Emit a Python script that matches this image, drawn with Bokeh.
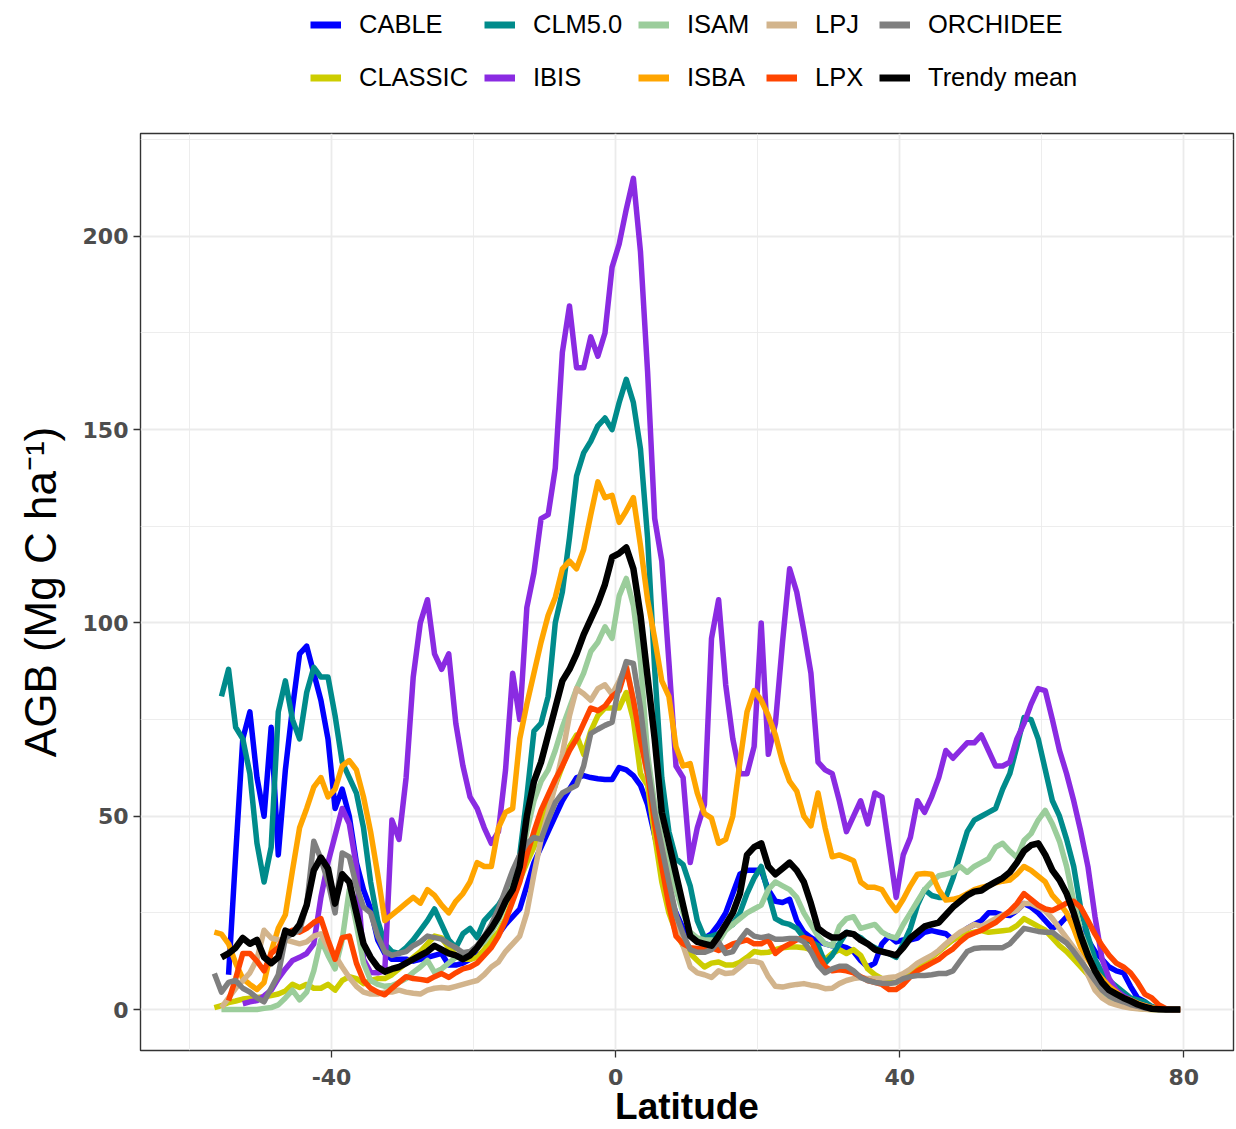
import numpy as np
from bokeh.plotting import figure
from bokeh.layouts import column
from bokeh.models import FixedTicker, Legend, LegendItem, Range1d
from bokeh.embed import file_html
from bokeh.resources import INLINE

nan = float("nan")

# latitude band centres (degrees)
LAT = list(np.arange(-56.5, 80.0, 1.0))

CABLE = [nan, nan, 9, 40, 70, 77, 60, 50, 73, 40,
         62, 78, 92, 94, 87, 80, 70, 52, 57, 50,
         38, 31, 26, 18, 14.5, 13, 13, 13, 12.5, 13,
         13.5, 14, 14.5, 11.5, 11.5, 12, 13, 14, 15, 17,
         19.5, 22, 24, 26, 32, 38, 42, 46, 50, 54,
         57, 60, 60.5, 60, 59.7, 59.5, 59.5, 62.6, 62, 60.5,
         58, 53, 45, 37, 30, 25, 21, 19, 18, 18.5,
         19.6, 22, 25, 30, 35, 36, 36, 36, 31, 28,
         27.7, 28.5, 23, 20, 18.6, 17.5, 17, 16.5, 16.5, 16,
         15, 12.7, 11, 12, 17, 19, 17.5, 18, 18, 18.5,
         20, 20.4, 20, 19.6, 18, 19.5, 21, 22, 23, 25,
         25, 24.5, 24.3, 25.6, 27.4, 26.5, 25, 23, 21, 22,
         24, 23, 21, 18, 15, 13, 11, 10, 9.5, 6,
         3, 2, 0.5, 0.2, 0, 0, 0]

CLASSIC = [0.5, 1, 1.8, 2.2, 2.7, 2.9, 3.1, 3.3, 3.6, 4,
           4.8, 6.5, 5.7, 6.5, 5.5, 5.5, 6.5, 5, 7.5, 8.5,
           8, 6.7, 7.5, 8, 8, 9, 10.5, 12, 13.5, 15,
           17, 19, 18.5, 16, 14, 13, 13, 13.5, 15.5, 18,
           20, 23.5, 28.5, 33.5, 38, 42, 48, 52.5, 58, 63,
           68, 71, 66, 72, 76, 78, 78, 78, 82, 75,
           61, 58, 45, 33, 25, 20, 16.5, 14.5, 12.7, 11,
           12, 12.3, 11.5, 11.5, 12.2, 13.5, 15, 14.7, 14.8, 15.5,
           16, 16.2, 16.2, 16, 15.5, 14.5, 13, 14.5, 15.5, 14.5,
           15.5, 14, 10.5, 9, 8, 7, 7, 8, 9.5, 11,
           12.5, 13.5, 15, 16.5, 18, 19, 19.6, 20, 20.4, 20,
           20.2, 20.4, 20.6, 21.7, 23.5, 22.5, 21.5, 20.5, 18.5, 16.5,
           15, 13, 11, 9, 6.5, 4.5, 3, 2, 1.2, 0.6,
           0.3, 0.1, 0, 0, 0, 0, 0]

CLM5 = [nan, 81, 88, 73, 70, 61, 43, 33, 42, 77,
        85, 75, 70, 82, 88.5, 86, 86, 76, 64, 60,
        56, 47, 33, 23, 17, 15, 14.5, 16, 18, 20.5,
        23, 26, 22, 18, 16, 19.6, 21, 18.6, 23, 25,
        27, 30, 33, 40, 55, 72, 74, 81, 100, 108,
        122, 138, 144, 147, 151, 153, 150, 157, 163, 157,
        145, 122, 88, 60, 46, 39, 37.5, 32, 23, 18.6,
        19, 19.6, 21, 22, 25, 30, 34, 37, 30, 23.5,
        22.5, 22, 21, 18.6, 17.5, 16.5, 12, 14, 17, 20,
        19.5, 18.6, 17, 16, 15, 14.5, 13.5, 17, 21, 27,
        31, 29.5, 29, 29, 34, 40, 46, 49, 50, 51,
        52, 57, 61, 68, 75.5, 75, 70, 62, 54, 50,
        44, 37, 26, 19, 13, 9.5, 7.5, 6, 4.5, 3,
        2.5, 2, 0.8, 0.3, 0, 0, 0]

IBIS = [nan, nan, nan, nan, 1.5, 2, 2.3, 3.5, 5, 8,
        10.5, 12.7, 13.5, 14.5, 17, 29, 38, 45, 52, 48,
        37, 13, 9.6, 9.5, 10, 49, 44, 60, 86, 100,
        106, 92, 88, 92, 74, 63, 55, 52, 47, 43,
        46, 62, 87, 75, 104, 113, 127, 128, 140, 170,
        182, 166, 166, 174, 169, 175, 192, 198, 207, 215,
        196, 165, 127, 116, 90, 63, 60, 38, 47, 53,
        96, 106, 84, 70, 61, 61, 68, 100, 66, 74,
        95, 114, 108, 98, 87, 64, 62, 61, 54, 46,
        50, 54, 48, 56, 55, 42, 29, 40, 44.5, 54,
        51, 55, 60, 67, 65, 67, 69, 69, 71, 67,
        63, 63, 64, 70, 74, 79, 83, 82.5, 75, 67,
        61, 54, 46, 37, 24, 13, 8, 5, 3.5, 2.5,
        1.5, 1, 0.5, 0.2, 0, 0, 0]

ISAM = [nan, 0, 0, 0, 0, 0, 0, 0.3, 0.5, 1.2,
        3, 5, 2.5, 4.5, 10, 18, 14, 10.5, 18, 31,
        22, 12, 7.5, 6.5, 6, 6.2, 7, 8, 9.6, 11,
        12.7, 9.6, 10.5, 12, 13.5, 14, 14.5, 16, 17.5, 20,
        23, 27.5, 32, 37, 46, 54, 59, 62, 67, 73,
        78, 83, 87, 92.6, 95, 99, 96, 107, 111.5, 104.5,
        90, 66, 53, 44, 37, 31, 25, 20, 18.5, 18,
        18, 17.5, 20.5, 22, 23.5, 25, 26, 27, 31, 33,
        32, 31, 29, 25, 22, 19, 17, 16.5, 21.5, 23.5,
        24, 21, 21.5, 22, 20, 19, 18.5, 22, 25, 28,
        31, 33, 34.6, 35, 35.5, 37, 35.5, 37, 38, 39,
        42, 43, 41, 39.3, 43.7, 45.5, 49, 51.5, 48, 43.5,
        37, 28, 20, 15, 9.5, 5, 3, 2, 1.2, 0.8,
        0.5, 0.3, 0.1, 0, 0, 0, 0]

ISBA = [20, 19.5, 17, 12, 8, 6.5, 5.2, 7, 15, 21,
        24.5, 36, 47, 52, 57.5, 60, 55, 57, 63, 64.4,
        62, 55, 46, 35, 23, 24.5, 26, 27.5, 29, 27.5,
        31, 29.5, 27, 25, 28, 30, 33, 38, 37, 37,
        47, 51, 52, 70, 79, 87, 95, 102, 106.6, 114,
        116, 114, 119, 128, 136.5, 132.4, 133, 126, 129, 132.4,
        120, 106, 96, 85, 81, 68, 63, 63.6, 56, 50.7,
        49.5, 43, 44, 50, 64, 77, 82.5, 80, 76, 71,
        64, 59, 56.5, 50, 47.5, 56, 47, 39.5, 40, 39.3,
        38.5, 33, 31.6, 31.6, 31, 28, 25.6, 28.5, 32, 35,
        35.2, 35, 31, 28.3, 28.5, 29, 30, 31, 31.6, 32,
        32.8, 33.2, 33.5, 35, 37, 36, 34.5, 33, 29.5, 27.5,
        25, 21, 16, 13, 10, 8, 6, 4.5, 3, 2.5,
        1.6, 1, 0.5, 0.2, 0, 0, 0]

LPJ = [nan, 0.5, 3, 5.5, 7.5, 9.5, 13, 20.5, 18.5, 18,
       18, 17.5, 17, 17.5, 19, 19.6, 16, 14, 11, 8.3,
       6, 4.5, 4, 4, 4.5, 4.5, 5, 4.5, 4.2, 4,
       5, 5.5, 5.7, 5.5, 6, 6.5, 7, 7.5, 9, 11,
       12.3, 15, 17, 19, 25, 35, 44, 51, 58, 66,
       76, 83, 81.7, 80, 83, 84, 81.5, 85, 89, 80,
       70, 60, 50, 42, 33, 24, 16.5, 11, 9.5, 9,
       8.3, 10, 9.3, 9.5, 11, 12.5, 12.5, 12, 8.5, 6,
       5.8, 6.2, 6.5, 6.7, 6.3, 6, 5.4, 5.5, 6.7, 7.5,
       8, 8.3, 8, 8, 8, 8.3, 8.5, 9.3, 10.5, 12,
       13, 14, 15.3, 17, 18.6, 20, 21, 22, 21.5, 22.5,
       23.5, 24.5, 25, 25.6, 27.4, 27.4, 26.5, 25.5, 23.5, 21,
       18.5, 16, 13.5, 9, 5, 3, 1.8, 1.2, 0.7, 0.4,
       0.2, 0.1, 0, 0, 0, 0, 0]

LPX = [nan, nan, 2.3, 8, 14.5, 14.5, 12.5, 10, 14.5, 16,
       19.5, 20.5, 20, 21, 22.5, 23.5, 18, 13, 18.6, 19,
       12, 7.5, 5.5, 4.5, 3.8, 5.5, 7, 8.5, 8, 7.8,
       7.5, 8.5, 9.3, 8.3, 9.5, 10.5, 11, 12, 14, 16,
       19, 23, 28, 33, 40, 46, 51.5, 55.5, 59.5, 63,
       67, 70, 74, 78, 77.3, 78.5, 81, 82.5, 88.5, 80,
       69.6, 61, 48, 37, 27, 19, 17, 16, 15.8, 15.7,
       16, 15.3, 16, 17, 17.5, 18, 17, 17, 18, 14.5,
       16, 17, 18, 18.6, 18, 14, 11, 10, 10.3, 10,
       9.5, 8.5, 7.5, 7, 6.5, 5.2, 5.2, 6.5, 8.5, 10,
       11, 12, 13, 14.5, 15.7, 17.5, 19, 19.8, 20.5, 21.5,
       22.5, 24, 25.5, 27.4, 30, 28.5, 27, 26, 25.6, 26.5,
       27.5, 28, 26.4, 23, 19.5, 16.5, 14, 12, 11, 9.5,
       7, 4, 3, 1.2, 0.2, 0, 0]

ORCHIDEE = [9.3, 4.5, 7, 7.5, 5.5, 4.5, 3, 2, 5.5, 9,
            18.5, 19.6, 20.5, 27, 43.5, 39, 33, 25, 40.5, 39.5,
            32, 26.5, 25, 19, 15, 14, 14.5, 15, 16.5, 17.5,
            19, 18.6, 18.2, 17, 16, 14.7, 15, 16.5, 19, 22,
            26, 31, 36, 40, 43, 44.5, 44, 49, 53.5, 56,
            57, 58, 63, 71.4, 72.5, 73.5, 74.3, 84, 90, 89.5,
            78, 63, 51, 42, 33, 24.5, 19.5, 15.5, 14.8, 14.8,
            15.5, 17.5, 14.5, 15, 18, 20.4, 19, 18.6, 19, 18.2,
            18.2, 18.4, 18.4, 17.5, 15, 11.5, 9.5, 10.5, 11.2, 11.2,
            10, 8.3, 7.5, 7, 6.8, 6.7, 7, 8, 8.5, 8.8,
            8.8, 9, 9.3, 9.3, 10, 12.5, 15, 15.8, 16, 16,
            16, 16, 17, 19, 21, 20.6, 20.2, 20, 20, 18.5,
            17.2, 15, 12.5, 10, 7.5, 5, 3.5, 2.6, 2, 1.3,
            0.8, 0.4, 0.2, 0, 0, 0, 0]

TRENDY_MEAN = [nan, 13.5, 14.5, 16, 18.5, 17, 18, 13.5, 12, 13.5,
               20.4, 19.6, 22, 27, 36, 39.3, 36.5, 27.4, 35, 33,
               25, 17, 13.5, 11, 9.8, 10.5, 11, 12, 13, 14,
               15, 16.5, 15.5, 14.5, 14, 13, 14, 16, 18.6, 21,
               24, 28, 31, 37, 50, 59, 64, 71, 78, 85,
               88, 92, 97, 101, 105, 110, 117, 118, 119.5, 114,
               102, 86, 70, 51, 43, 35, 27, 19, 17.5, 17,
               16.5, 19, 22, 25, 30, 40, 42, 43, 37, 35,
               36.5, 38, 36, 33, 27.4, 21, 19.6, 18.6, 18.6, 19.8,
               19.5, 18, 17, 15.5, 15, 14.5, 14, 16, 18.5, 20,
               21.5, 22, 22.5, 24.5, 26.5, 28, 29.5, 30.5, 30.8, 32,
               33, 34, 35.5, 38, 41, 42.5, 43, 40, 36, 33.5,
               30, 25, 19, 14, 10, 7, 5, 4, 3, 2.2,
               1.3, 0.7, 0.2, 0.1, 0, 0, 0]

MODELS = ["CABLE", "CLASSIC", "CLM5.0", "IBIS", "ISAM", "ISBA", "LPJ", "LPX",
          "ORCHIDEE", "Trendy mean"]
SERIES = [CABLE, CLASSIC, CLM5, IBIS, ISAM, ISBA, LPJ, LPX, ORCHIDEE, TRENDY_MEAN]
COLORS = ["#0000FF", "#CDCD00", "#008B8B", "#8A2BE2", "#9BCD9B", "#FFA500",
          "#D2B48C", "#FF4500", "#7F7F7F", "#000000"]

X_TICKS = [-40, 0, 40, 80]
X_MINOR = [-60, -20, 20, 60]
Y_TICKS = [0, 50, 100, 150, 200]
Y_MINOR = [25, 75, 125, 175, 225]

W, H = 1236, 1129
LEG_H = 131                      # legend strip on top
FRAME_L, FRAME_R, FRAME_T, FRAME_B = 140, 1233, 133, 1050

# ---------------- main plot ----------------
p = figure(width=W, height=H - LEG_H, output_backend="svg", toolbar_location=None,
           x_range=Range1d(-66.9, 87.0), y_range=Range1d(-10.6, 226.6),
           min_border_left=FRAME_L, min_border_right=W - FRAME_R,
           min_border_top=FRAME_T - LEG_H, min_border_bottom=H - FRAME_B)
p.background_fill_color = "white"
p.border_fill_color = "white"
p.outline_line_color = "#333333"
p.outline_line_width = 1.4

p.xaxis.ticker = FixedTicker(ticks=X_TICKS, minor_ticks=X_MINOR)
p.yaxis.ticker = FixedTicker(ticks=Y_TICKS, minor_ticks=Y_MINOR)
p.xaxis.major_label_overrides = {t: str(t) for t in X_TICKS}
for ax in (p.xaxis, p.yaxis):
    ax.axis_line_color = None
    ax.major_tick_line_color = "#333333"
    ax.major_tick_line_width = 1.3
    ax.major_tick_out = 7
    ax.major_tick_in = 0
    ax.minor_tick_line_color = None
    ax.major_label_text_font = "DejaVu Sans"
    ax.major_label_text_font_style = "bold"
    ax.major_label_text_font_size = "22px"
    ax.major_label_text_color = "#4D4D4D"
p.xaxis.major_label_standoff = 11
p.yaxis.major_label_standoff = 5

p.xaxis.axis_label = "Latitude"
p.xaxis.axis_label_text_font = "Liberation Sans"
p.xaxis.axis_label_text_font_style = "bold"
p.xaxis.axis_label_text_font_size = "37px"
p.xaxis.axis_label_text_color = "black"
p.xaxis.axis_label_standoff = -2

p.yaxis.axis_label = "AGB (Mg C ha\u207b\u00b9)"
p.yaxis.axis_label_text_font = "Liberation Sans"
p.yaxis.axis_label_text_font_style = "normal"
p.yaxis.axis_label_text_font_size = "44px"
p.yaxis.axis_label_text_color = "black"
p.yaxis.axis_label_standoff = 15

for g in (p.xgrid, p.ygrid):
    g.grid_line_color = "#EBEBEB"
    g.grid_line_width = 1.8
    g.minor_grid_line_color = "#EBEBEB"
    g.minor_grid_line_width = 0.9

for name, vals, col in zip(MODELS, SERIES, COLORS):
    lw = 6.5 if name == "Trendy mean" else 5.5
    p.line(LAT, vals, line_color=col, line_width=lw, line_join="round")

# ---------------- legend strip ----------------
lg_fig = figure(width=W, height=LEG_H, output_backend="svg", toolbar_location=None,
                x_range=Range1d(0, 1), y_range=Range1d(0, 1),
                min_border_left=FRAME_L, min_border_right=W - FRAME_R,
                min_border_top=0, min_border_bottom=0)
lg_fig.axis.visible = False
lg_fig.grid.visible = False
lg_fig.outline_line_color = None
lg_fig.background_fill_color = "white"
lg_fig.border_fill_color = "white"

# key renderers: points lie outside this strip's ranges, only the legend shows them
keys = {}
for name, col in zip(MODELS, COLORS):
    keys[name] = lg_fig.line([-5, -4], [-5, -5], line_color=col, line_width=7)

LEGEND_COLS = [["CABLE", "CLASSIC"], ["CLM5.0", "IBIS"], ["ISAM", "ISBA"],
               ["LPJ", "LPX"], ["ORCHIDEE", "Trendy mean"]]
LEGEND_X = [310, 484, 638, 766, 879]
for names, lx in zip(LEGEND_COLS, LEGEND_X):
    lg = Legend(items=[LegendItem(label=n, renderers=[keys[n]]) for n in names],
                orientation="vertical", location=(lx - FRAME_L, LEG_H - 95),
                glyph_width=31, glyph_height=35, label_height=35, label_standoff=18,
                spacing=18, padding=0, margin=0, border_line_color=None,
                background_fill_alpha=0, label_text_font="Liberation Sans",
                label_text_font_size="25.5px", label_text_color="black")
    lg_fig.add_layout(lg, "center")

layout = column(lg_fig, p, spacing=0)
open("out.html", "w").write(file_html(layout, INLINE))
